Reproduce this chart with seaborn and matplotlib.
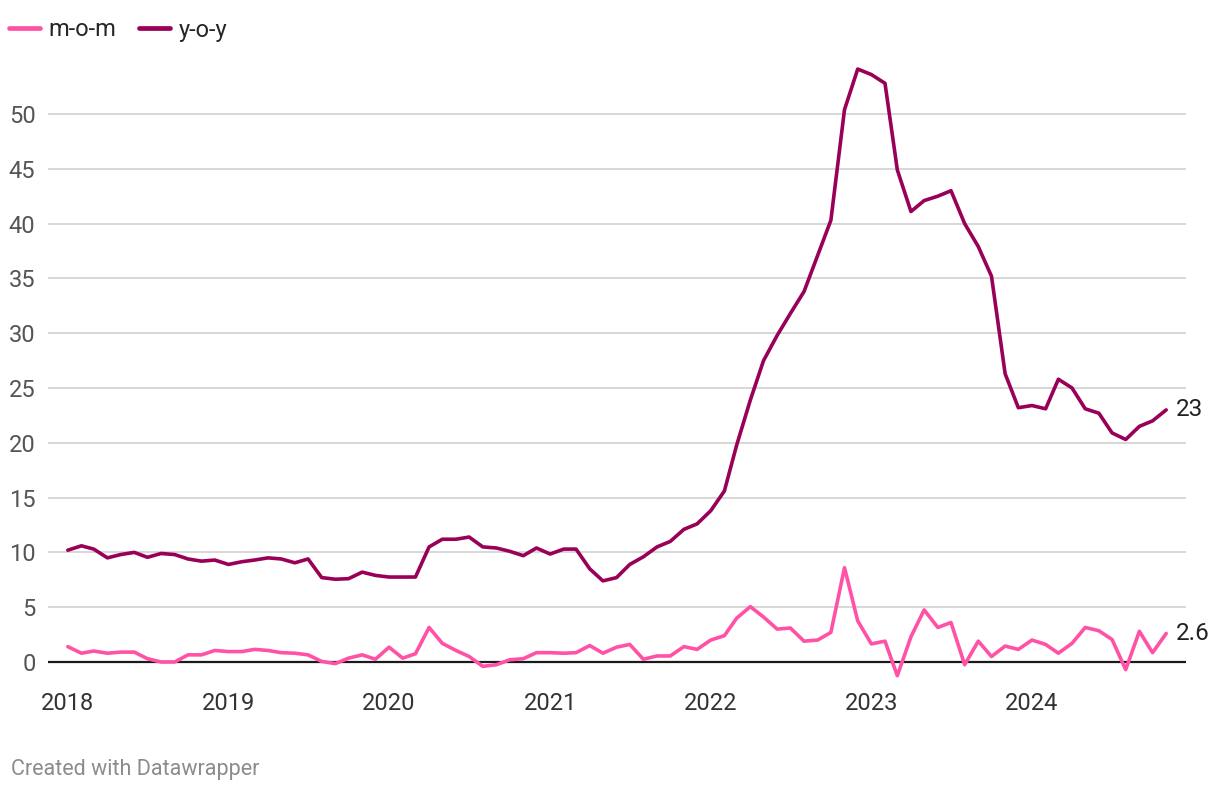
import matplotlib
matplotlib.use("Agg")
import matplotlib.pyplot as plt
from matplotlib.lines import Line2D
import seaborn as sns
import pandas as pd
import numpy as np

# ---- data ----
start_month = "2018-01"
n_months = 83
mom = [
    1.4, 0.8, 1.0, 0.8, 0.9, 0.9, 0.3, 0.0, 0.0, 0.65, 0.65, 1.05,
    0.95, 0.95, 1.15, 1.05, 0.85, 0.8, 0.65, 0.05, -0.15, 0.35, 0.65, 0.25,
    1.35, 0.35, 0.75, 3.15, 1.7, 1.05, 0.5, -0.4, -0.25, 0.2, 0.3, 0.85,
    0.85, 0.8, 0.85, 1.5, 0.8, 1.35, 1.6, 0.25, 0.55, 0.55, 1.4, 1.15,
    2.0, 2.4, 4.0, 5.05, 4.1, 3.0, 3.1, 1.9, 2.0, 2.7, 8.6, 3.75,
    1.65, 1.9, -1.25, 2.3, 4.75, 3.15, 3.6, -0.25, 1.9, 0.5, 1.45, 1.15,
    2.0, 1.6, 0.8, 1.7, 3.15, 2.85, 2.05, -0.7, 2.8, 0.85, 2.6,
]
yoy = [
    10.2, 10.6, 10.3, 9.5, 9.8, 10.0, 9.55, 9.9, 9.8, 9.4, 9.2, 9.3,
    8.9, 9.15, 9.3, 9.5, 9.4, 9.05, 9.4, 7.7, 7.55, 7.6, 8.2, 7.9,
    7.75, 7.75, 7.75, 10.5, 11.2, 11.2, 11.4, 10.5, 10.4, 10.1, 9.7, 10.4,
    9.85, 10.3, 10.3, 8.5, 7.4, 7.7, 8.9, 9.6, 10.5, 11.0, 12.1, 12.6,
    13.8, 15.6, 19.8, 23.9, 27.5, 29.8, 31.8, 33.8, 37.1, 40.3, 50.4, 54.1,
    53.6, 52.8, 44.9, 41.1, 42.1, 42.5, 43.0, 40.0, 37.9, 35.2, 26.3, 23.2,
    23.4, 23.1, 25.8, 25.0, 23.1, 22.7, 20.9, 20.3, 21.5, 22.0, 23.0,
]
series_names = ["m-o-m", "y-o-y"]
series_colors = ["#ff52a6", "#990057"]
end_labels = ["2.6", "23"]
y_ticks = [0, 5, 10, 15, 20, 25, 30, 35, 40, 45, 50]
year_ticks = ["2018", "2019", "2020", "2021", "2022", "2023", "2024"]

dates = pd.date_range(start_month, periods=n_months, freq="MS")
df = pd.DataFrame({
    "date": np.concatenate([dates, dates]),
    "value": mom + yoy,
    "series": [series_names[0]] * n_months + [series_names[1]] * n_months,
})

# ---- style ----
sns.set_style("white")
plt.rcParams["font.family"] = ["Roboto", "DejaVu Sans"]

fig = plt.figure(figsize=(12.2, 7.92), dpi=100)
ax = fig.add_axes([48 / 1220, 108.1 / 792, 1138 / 1220, 624.7 / 792])

for yv in y_ticks[1:]:
    ax.axhline(yv, color="#d4d4d4", lw=1.3, zorder=0)
ax.axhline(0, color="#1a1a1a", lw=1.6, zorder=1)

sns.lineplot(data=df, x="date", y="value", hue="series",
             palette=dict(zip(series_names, series_colors)),
             linewidth=2.6, ax=ax, legend=False, zorder=3)

ax.set_ylim(-2, 55)
ax.set_xlim(pd.Timestamp("2017-11-17"), pd.Timestamp("2024-12-16"))
ax.set_yticks(y_ticks)
ax.set_yticklabels([str(v) for v in y_ticks])
ax.set_xticks([pd.Timestamp(f"{y}-01-01") for y in year_ticks])
ax.set_xticklabels(year_ticks)
ax.tick_params(axis="y", length=0, pad=9, labelsize=17, labelcolor="#555555")
ax.tick_params(axis="x", length=0, pad=6, labelsize=17, labelcolor="#333333")
for s in ax.spines.values():
    s.set_visible(False)
ax.set_xlabel("")
ax.set_ylabel("")

# end labels
ax.annotate(end_labels[0], xy=(dates[-1], mom[-1]), xytext=(7, 0),
            textcoords="offset points", va="center", ha="left",
            fontsize=17.5, color="#222222")
ax.annotate(end_labels[1], xy=(dates[-1], yoy[-1]), xytext=(7, 0),
            textcoords="offset points", va="center", ha="left",
            fontsize=17.5, color="#222222")

# legend
handles = [Line2D([0], [0], color=c, lw=3.4, solid_capstyle="round") for c in series_colors]
fig.legend(handles, series_names, loc="center left", bbox_to_anchor=(9 / 1220, 1 - 30 / 792),
           ncol=2, frameon=False, fontsize=17, handlelength=1.3,
           handletextpad=0.35, columnspacing=1.0, borderaxespad=0.0, borderpad=0.0)

fig.text(11 / 1220, 1 - 769 / 792, "Created with Datawrapper", fontsize=15.5,
         color="#8c8c8c", va="center", ha="left")

fig.savefig("out.png", dpi=100)
